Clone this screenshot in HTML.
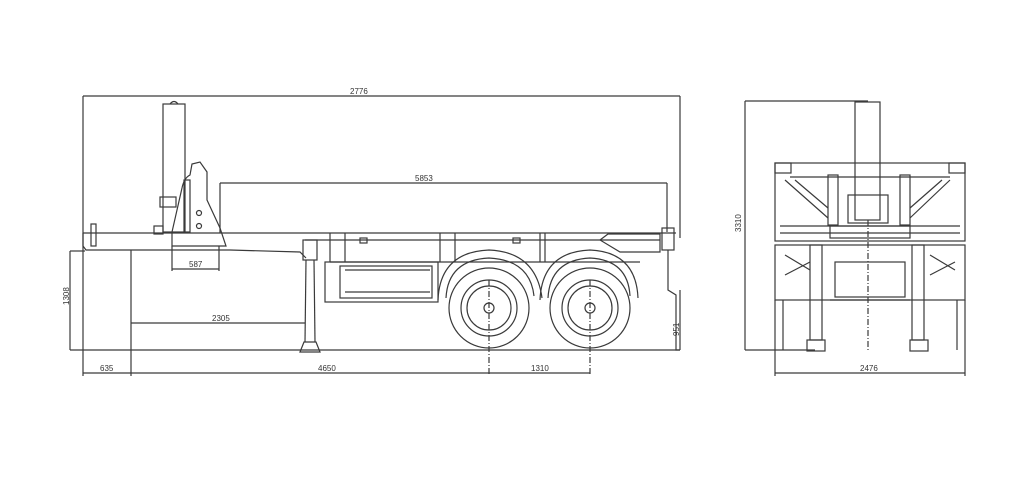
<!DOCTYPE html>
<html><head><meta charset="utf-8"><style>
html,body{margin:0;padding:0;background:#fff;}
svg{display:block;}
text{font-family:"Liberation Sans",sans-serif;font-size:8px;fill:#333;}
</style></head><body>
<svg width="1024" height="478" viewBox="0 0 1024 478" xmlns="http://www.w3.org/2000/svg">
<g fill="none" stroke="#3a3a3a" stroke-width="1.2">
<line x1="83" y1="96" x2="680" y2="96"/>
<line x1="83" y1="96" x2="83" y2="376"/>
<line x1="680" y1="96" x2="680" y2="238"/>
<line x1="220" y1="183" x2="667" y2="183"/>
<line x1="220" y1="183" x2="220" y2="233"/>
<line x1="667" y1="183" x2="667" y2="232"/>
<rect x="163" y="104" width="22" height="128"/>
<path d="M170 104 Q174 99 178 104"/>
<rect x="160" y="197" width="16" height="10"/>
<path d="M172 232 L182 188 Q184 178 190 175 L192 164 L200 162 L207 172 L207 200 L220 228 L226 246 L172 246 Z"/>
<rect x="184" y="180" width="6" height="52"/>
<circle cx="199" cy="213" r="2.5"/>
<circle cx="199" cy="226" r="2.5"/>
<rect x="154" y="226" width="9" height="8"/>
<line x1="83" y1="233" x2="305" y2="233"/>
<path d="M83 233 L83 246 L86 250 L230 250 L300 252 L306 258"/>
<rect x="91" y="224" width="5" height="22"/>
<line x1="131" y1="250" x2="131" y2="256"/>
<line x1="172" y1="246" x2="172" y2="271"/>
<line x1="219" y1="246" x2="219" y2="271"/>
<line x1="172" y1="269" x2="219" y2="269"/>
<line x1="305" y1="233" x2="676" y2="233"/>
<line x1="305" y1="240" x2="660" y2="240"/>
<line x1="330" y1="262" x2="640" y2="262"/>
<line x1="330" y1="233" x2="330" y2="262"/>
<line x1="345" y1="233" x2="345" y2="262"/>
<line x1="440" y1="233" x2="440" y2="262"/>
<line x1="455" y1="233" x2="455" y2="262"/>
<line x1="540" y1="233" x2="540" y2="262"/>
<line x1="545" y1="233" x2="545" y2="262"/>
<rect x="325" y="262" width="113" height="40"/>
<rect x="340" y="266" width="92" height="32"/>
<line x1="345" y1="270" x2="430" y2="270"/>
<line x1="345" y1="292" x2="430" y2="292"/>
<rect x="360" y="238" width="7" height="5"/>
<rect x="513" y="238" width="7" height="5"/>
<path d="M600 240 L608 234 L660 234 L660 252 L620 252 Z"/>
<rect x="662" y="228" width="12" height="22"/>
<path d="M668 250 L668 290 L676 295 L676 350 L680 350"/>
<rect x="303" y="240" width="14" height="20"/>
<line x1="306" y1="260" x2="305" y2="342"/>
<line x1="314" y1="260" x2="315" y2="342"/>
<path d="M300 352 L304 342 L316 342 L320 352 Z"/>
<path d="M438 300 Q440 252 489 250 Q536 252 542 298"/>
<path d="M446 298 Q448 260 489 258 Q530 260 534 296"/>
<path d="M540 300 Q542 252 590 250 Q636 252 638 298"/>
<path d="M548 298 Q550 260 590 258 Q628 260 630 296"/>
<circle cx="489" cy="308" r="40"/>
<circle cx="489" cy="308" r="28"/>
<circle cx="489" cy="308" r="22"/>
<circle cx="489" cy="308" r="5"/>
<circle cx="590" cy="308" r="40"/>
<circle cx="590" cy="308" r="28"/>
<circle cx="590" cy="308" r="22"/>
<circle cx="590" cy="308" r="5"/>
<line x1="489" y1="280" x2="489" y2="376" stroke-dasharray="6 2 1 2"/>
<line x1="590" y1="280" x2="590" y2="376" stroke-dasharray="6 2 1 2"/>
<line x1="70" y1="251" x2="85" y2="251"/>
<line x1="70" y1="251" x2="70" y2="350"/>
<line x1="70" y1="350" x2="680" y2="350"/>
<line x1="131" y1="256" x2="131" y2="376"/>
<line x1="131" y1="323" x2="305" y2="323"/>
<line x1="83" y1="373" x2="590" y2="373"/>
<line x1="680" y1="290" x2="680" y2="350"/>
<line x1="745" y1="101" x2="868" y2="101"/>
<line x1="745" y1="101" x2="745" y2="350"/>
<line x1="745" y1="350" x2="815" y2="350"/>
<rect x="855" y="102" width="25" height="118"/>
<rect x="775" y="163" width="190" height="78"/>
<rect x="775" y="163" width="16" height="10"/>
<rect x="949" y="163" width="16" height="10"/>
<line x1="790" y1="177" x2="950" y2="177"/>
<line x1="780" y1="226" x2="960" y2="226"/>
<line x1="780" y1="233" x2="960" y2="233"/>
<path d="M785 180 L828 218 M795 180 L828 208 M950 180 L910 218 M942 180 L910 208"/>
<rect x="828" y="175" width="10" height="50"/>
<rect x="900" y="175" width="10" height="50"/>
<rect x="848" y="195" width="40" height="28"/>
<rect x="830" y="226" width="80" height="12"/>
<rect x="775" y="245" width="190" height="55"/>
<path d="M785 255 L810 270 M785 275 L810 262 M930 255 L955 270 M930 275 L955 262"/>
<rect x="835" y="262" width="70" height="35"/>
<line x1="830" y1="300" x2="910" y2="300"/>
<rect x="810" y="245" width="12" height="95"/>
<rect x="912" y="245" width="12" height="95"/>
<rect x="807" y="340" width="18" height="11"/>
<rect x="910" y="340" width="18" height="11"/>
<line x1="783" y1="300" x2="783" y2="350"/>
<line x1="957" y1="300" x2="957" y2="350"/>
<line x1="868" y1="220" x2="868" y2="350" stroke-dasharray="6 2 1 2"/>
<line x1="775" y1="300" x2="775" y2="376"/>
<line x1="965" y1="300" x2="965" y2="376"/>
<line x1="775" y1="373" x2="965" y2="373"/>
</g>
<text x="350" y="94">2776</text>
<text x="415" y="181">5853</text>
<text x="189" y="267">587</text>
<text x="212" y="321">2305</text>
<text x="100" y="371">635</text>
<text x="318" y="371">4650</text>
<text x="531" y="371">1310</text>
<text transform="translate(69,305) rotate(-90)">1308</text>
<text transform="translate(679,336) rotate(-90)">951</text>
<text transform="translate(741,232) rotate(-90)">3310</text>
<text x="860" y="371">2476</text>
</svg>
</body></html>
